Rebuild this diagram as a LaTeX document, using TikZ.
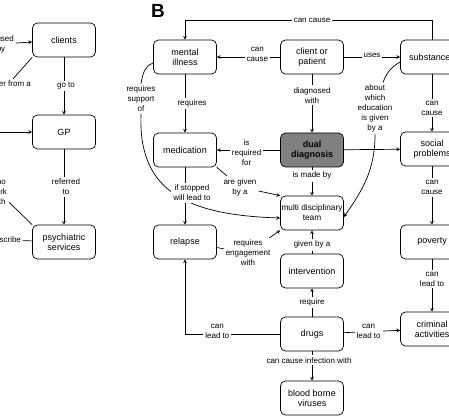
\documentclass[tikz,border=0pt]{standalone}
\usepackage{fontspec}
\setmainfont{Liberation Sans}
\begin{document}
\begin{tikzpicture}[scale=1, x=1pt, y=1pt, font=\fontsize{9}{10}\selectfont, line join=round, line cap=round, >=stealth, line width=0.7pt,
	box/.style={draw, rounded corners=5pt, minimum width=63pt, minimum height=34pt, inner sep=1pt, align=center},
	lbl/.style={fill=white, inner sep=2pt, align=center, font=\fontsize{8}{10}\selectfont}]
	\def\ca{64} \def\cb{185} \def\cc{312} \def\cd{432} % Cột
	\useasboundingbox (0,0) rectangle (449,-419);
	\clip (0,0) rectangle (449,-419);
	% A
	\node[box] (clients) at (\ca,-40) {clients};
	\node[box] (gp) at (\ca,-132) {GP};
	\node[box] (psych) at (\ca,-242) {psychiatric\\services};
	\coordinate (gpin) at (-20,-132);
	\node[lbl] (lbcaused) at (1,-44) {caused\\by};
	\node[lbl] (lbsuffer) at (8.5,-84) {suffer from a};
	\node[lbl] (lbwho) at (-1.5,-192) {who\\work\\with};
	\node[lbl] (lbpresc) at (4.5,-240) {prescribe};
	\draw[->] (clients) -- node[lbl,xshift=2pt]{go to} (gp);
	\draw[->] (gp) -- node[lbl,xshift=2pt]{referred\\to} (psych);
	\draw[->] (lbcaused) -- (clients);
	\draw (clients.south west) -- (lbsuffer);
	\draw[->] (gpin) -- (gp);
	\draw (psych.north west) -- (lbwho);
	\draw (psych) -- (lbpresc);
	% B
	\node[font=\fontsize{19}{19}\selectfont\bfseries] (titB) at (158,-11) {B};
	\node[box] (mental) at (\cb,-57) {mental\\illness};
	\node[box] (client) at (\cc,-57) {client or\\patient};
	\node[box] (subst) at (\cd,-57) {substances};
	\node[box] (medic) at (\cb,-150) {medication};
	\node[box, fill=black!50, font=\fontsize{9}{10}\selectfont\bfseries] (dual) at (\cc,-150) {dual\\diagnosis};
	\node[box] (social) at (\cd,-149) {social\\problems};
	\node[box, font=\fontsize{8.3}{10}\selectfont] (team) at (\cc,-213) {multi disciplinary\\team};
	\node[box] (relapse) at (\cb,-242) {relapse};
	\node[box] (poverty) at (\cd,-242) {poverty};
	\node[box] (interv) at (\cc,-271) {intervention};
	\node[box] (drugs) at (\cc,-334) {drugs};
	\node[box] (crim) at (\cd,-329) {criminal\\activities};
	\node[box] (blood) at (\cc,-398) {blood borne\\viruses};
	\node[lbl] (lbtop) at (\cc,-20) {can cause};
	\node[lbl] (lbsupp) at (141,-99) {requires\\support\\of};
	\node[lbl] (lbedu) at (375,-108.5) {about\\which\\education\\is given\\by a};
	\node[lbl] (lbgiven) at (240,-187) {are given\\by a};
	\node[lbl] (lbeng) at (248,-253) {requires\\engagement\\with};
	\draw (subst) |- (lbtop);
	\draw[->] (lbtop) -| (mental);
	\draw[->] (client) -- node[lbl,pos=0.36,yshift=3pt]{can\\cause} (mental);
	\draw[->] (client) -- node[lbl,yshift=2pt]{uses} (subst);
	\draw[->] (client) -- node[lbl,pos=0.36]{diagnosed\\with} (dual);
	\draw ([yshift=-6pt]mental.west) to[out=200,in=80] (lbsupp.north);
	\draw[->] (lbsupp.south) .. controls (138,-190) and (185,-215) .. ([yshift=-5pt]team.west);
	\draw[->] (mental) -- node[lbl,xshift=7pt]{requires} (medic);
	\draw[->] (medic) -- node[lbl,pos=0.45,xshift=7pt]{if stopped\\will lead to} (relapse);
	\draw[->] (dual) -- node[lbl,pos=0.53,yshift=-3pt]{is\\required\\for} (medic);
	\draw (medic.south east) -- (lbgiven);
	\draw[->] (lbgiven) -- (team.north west);
	\draw (relapse) -- (lbeng);
	\draw[->] (lbeng) -- (team.south west);
	\draw ([yshift=-5pt]subst.west) to[out=210,in=70] ([xshift=8pt]lbedu.north);
	\draw[->] (dual) -- (social);
	\draw[->] (lbedu.south) to[out=-90,in=55] ([yshift=-4pt]team.east);
	\draw[->] (dual) -- node[lbl,pos=0.3]{is made by} (team);
	\draw[->] (interv) -- node[lbl,pos=0.375]{given by a} (team);
	\draw[->] (drugs) -- node[lbl]{require} (interv);
	\draw[->] (drugs) -- node[lbl,pos=0.3,xshift=-3pt]{can cause infection with} (blood);
	\draw[->] (drugs) -| node[lbl,pos=0.33,yshift=3pt]{can\\lead to} (relapse);
	\draw[->] (drugs) -- node[lbl,pos=0.44]{can\\lead to} (crim);
	\draw[->] (subst) -- node[lbl,pos=0.59]{can\\cause} (social);
	\draw[->] (social) -- node[lbl,pos=0.36]{can\\cause} (poverty);
	\draw[->] (poverty) -- node[lbl,pos=0.38]{can\\lead to} (crim);
\end{tikzpicture}
\end{document}
